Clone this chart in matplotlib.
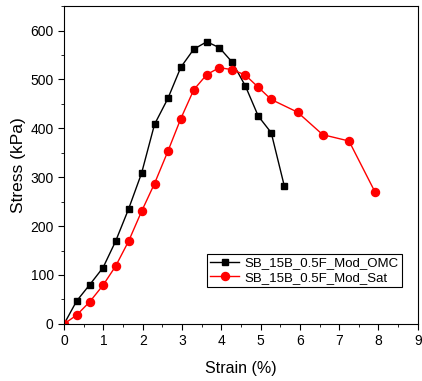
import numpy as np
import matplotlib.pyplot as plt
from matplotlib.ticker import MultipleLocator

plt.rcParams['font.family'] = ['Liberation Sans', 'DejaVu Sans']

# OMC series
strain_omc = [0, 0.32, 0.65, 0.99, 1.31, 1.64, 1.97, 2.30, 2.64, 2.97, 3.30,
              3.63, 3.95, 4.28, 4.61, 4.94, 5.27, 5.60]
stress_omc = [0, 47, 80, 115, 169, 235, 308, 408, 461, 525, 562,
              577, 565, 535, 487, 425, 391, 283]

# Saturated series
strain_sat = [0, 0.32, 0.65, 0.99, 1.31, 1.64, 1.97, 2.30, 2.64, 2.97, 3.30,
              3.63, 3.95, 4.28, 4.61, 4.94, 5.27, 5.94, 6.58, 7.25, 7.91]
stress_sat = [0, 18, 45, 79, 118, 169, 230, 287, 353, 420, 479,
              510, 524, 520, 509, 484, 459, 433, 387, 374, 270]

fig = plt.figure(figsize=(4.22, 3.81), dpi=100)
ax = fig.add_axes([0.152, 0.150, 0.838, 0.834])

ax.plot(strain_omc, stress_omc, color='black', lw=1, marker='s', ms=5,
        label='SB_15B_0.5F_Mod_OMC')
ax.plot(strain_sat, stress_sat, color='red', lw=1, marker='o', ms=5.8,
        label='SB_15B_0.5F_Mod_Sat')

ax.set_xlim(0, 9)
ax.set_ylim(0, 650)
ax.xaxis.set_major_locator(MultipleLocator(1))
ax.xaxis.set_minor_locator(MultipleLocator(0.5))
ax.yaxis.set_major_locator(MultipleLocator(100))
ax.yaxis.set_minor_locator(MultipleLocator(50))
ax.tick_params(which='major', direction='out', length=4, labelsize=10)
ax.tick_params(which='minor', direction='out', length=2)

ax.set_xlabel('Strain (%)', fontsize=11.5, labelpad=9)
ax.set_ylabel('Stress (kPa)', fontsize=12.5, labelpad=3)

leg = ax.legend(loc='lower right', bbox_to_anchor=(0.955, 0.115), fontsize=9.5,
                fancybox=False, edgecolor='black', framealpha=1,
                handlelength=2.2, borderpad=0.25, labelspacing=0.2,
                handletextpad=0.4, borderaxespad=0)
leg.get_frame().set_linewidth(0.8)

fig.savefig('out.png', dpi=100)
